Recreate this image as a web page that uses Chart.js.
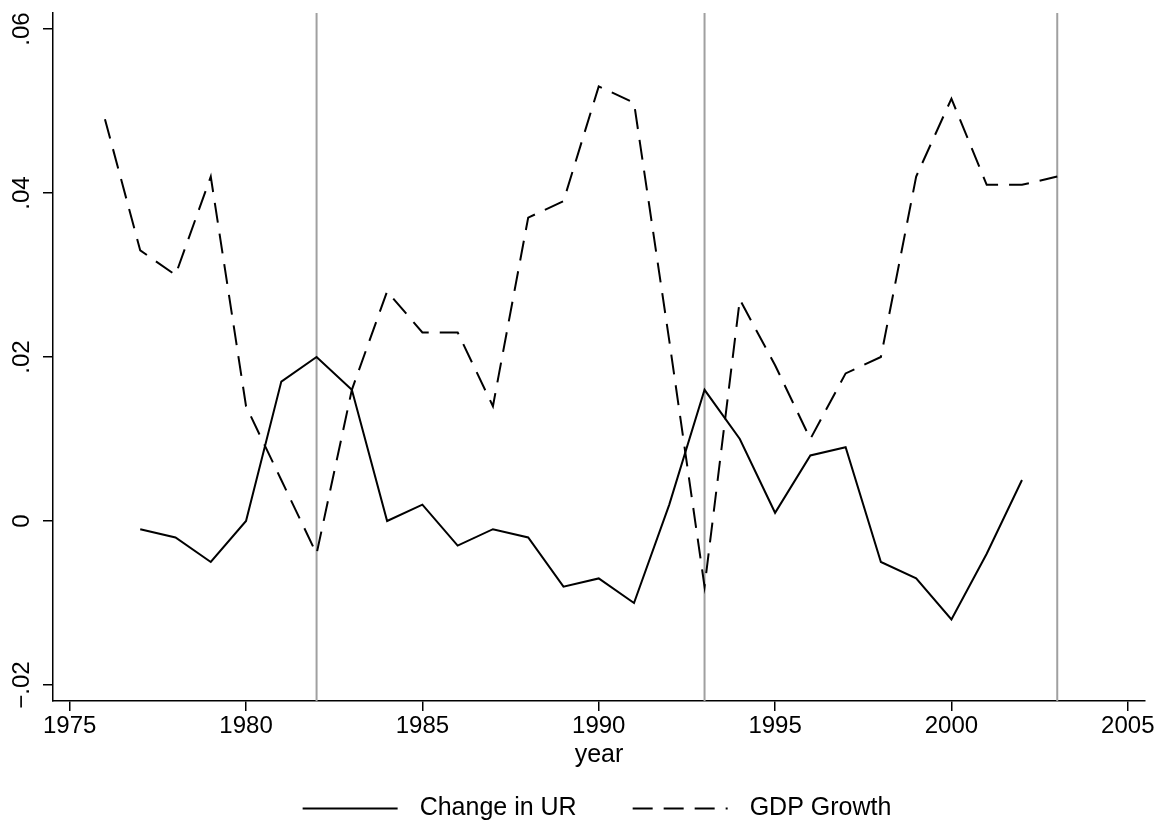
<!DOCTYPE html>
<html>
<head>
<meta charset="utf-8">
<title>Change in UR and GDP Growth</title>
<script src="https://cdn.jsdelivr.net/npm/chart.js@4.4.1/dist/chart.umd.min.js"></script>
<style>
html, body { margin: 0; padding: 0; background: #fff; }
#wrap { width: 1165px; height: 827px; }
</style>
</head>
<body>
<div id="wrap"><canvas id="mychart"></canvas></div>
<script>
// values
var urYears = [1977, 1978, 1979, 1980, 1981, 1982, 1983, 1984, 1985, 1986, 1987, 1988, 1989,
               1990, 1991, 1992, 1993, 1994, 1995, 1996, 1997, 1998, 1999, 2000, 2001, 2002]
var urChange = [-0.001, -0.002, -0.005, 0.000, 0.017, 0.020, 0.016, 0.000, 0.002, -0.003, -0.001, -0.002, -0.008,
                -0.007, -0.010, 0.002, 0.016, 0.010, 0.001, 0.008, 0.009, -0.005, -0.007, -0.012, -0.004, 0.005]

var gdpYears = [1976, 1977, 1978, 1979, 1980, 1981, 1982, 1983, 1984, 1985, 1986, 1987, 1988, 1989,
                1990, 1991, 1992, 1993, 1994, 1995, 1996, 1997, 1998, 1999, 2000, 2001, 2002, 2003]
var gdpGrowth = [0.049, 0.033, 0.030, 0.042, 0.014, 0.005, -0.004, 0.016, 0.028, 0.023, 0.023, 0.014, 0.037, 0.039,
                 0.053, 0.051, 0.022, -0.008, 0.027, 0.019, 0.010, 0.018, 0.020, 0.042, 0.0515, 0.041, 0.041, 0.042]

var markYears = [1982, 1993, 2003]

var xTicks = [1975, 1980, 1985, 1990, 1995, 2000, 2005]
var yTicks = [-0.02, 0, 0.02, 0.04, 0.06]
var yTickLabels = ['\u2212.02', '0', '.02', '.04', '.06']

function toPoints(xs, ys) {
  var pts = []
  for (var i = 0; i < xs.length; i++) pts.push({x: xs[i], y: ys[i]})
  return pts
}

var FONT = "'Liberation Sans', Arial, Helvetica, sans-serif"
Chart.defaults.font.family = FONT
Chart.defaults.color = '#000'

// grey vertical lines under the series
var markLines = {
  id: 'markLines',
  beforeDatasetsDraw: function(chart) {
    var ctx = chart.ctx, xs = chart.scales.x, area = chart.chartArea
    ctx.save()
    ctx.strokeStyle = '#a0a0a0'
    ctx.lineWidth = 2
    markYears.forEach(function(yr) {
      var px = xs.getPixelForValue(yr)
      ctx.beginPath()
      ctx.moveTo(px, area.top)
      ctx.lineTo(px, area.bottom)
      ctx.stroke()
    })
    ctx.restore()
  }
}

// vertical y tick labels, stata style
var yLabels = {
  id: 'yLabels',
  afterDraw: function(chart) {
    var ctx = chart.ctx, ys = chart.scales.y
    ctx.save()
    ctx.font = '24px ' + FONT
    ctx.fillStyle = '#000'
    ctx.textAlign = 'center'
    ctx.textBaseline = 'middle'
    yTicks.forEach(function(v, i) {
      ctx.save()
      ctx.translate(22, ys.getPixelForValue(v))
      ctx.rotate(-Math.PI / 2)
      ctx.fillText(yTickLabels[i], 0, 0)
      ctx.restore()
    })
    ctx.restore()
  }
}

// legend row under the axis title
var bottomLegend = {
  id: 'bottomLegend',
  afterDraw: function(chart) {
    var ctx = chart.ctx, area = chart.chartArea
    var sample = 95, gapText = 22, gapItem = 56, y = 808.5
    ctx.save()
    ctx.font = '25px ' + FONT
    var sets = chart.data.datasets
    var total = 0
    sets.forEach(function(ds, i) {
      total += sample + gapText + ctx.measureText(ds.label).width
      if (i > 0) total += gapItem
    })
    var x = (area.left + area.right) / 2 - 2 - total / 2
    sets.forEach(function(ds) {
      ctx.strokeStyle = ds.borderColor
      ctx.lineWidth = ds.borderWidth
      ctx.setLineDash(ds.borderDash || [])
      ctx.beginPath()
      ctx.moveTo(x, y)
      ctx.lineTo(x + sample, y)
      ctx.stroke()
      ctx.setLineDash([])
      ctx.fillStyle = '#000'
      ctx.textAlign = 'left'
      ctx.textBaseline = 'middle'
      ctx.fillText(ds.label, x + sample + gapText, y)
      x += sample + gapText + ctx.measureText(ds.label).width + gapItem
    })
    ctx.restore()
  }
}

var mychart = document.getElementById('mychart').getContext('2d')
var chart = new Chart(mychart, {
  type: 'line',
  data: {
    datasets: [
      {
        label: 'Change in UR',
        data: toPoints(urYears, urChange),
        borderColor: '#000',
        borderWidth: 2,
        pointRadius: 0,
        tension: 0,
        fill: false
      },
      {
        label: 'GDP Growth',
        data: toPoints(gdpYears, gdpGrowth),
        borderColor: '#000',
        borderWidth: 2,
        borderDash: [20, 11],
        pointRadius: 0,
        tension: 0,
        fill: false
      }
    ]
  },
  options: {
    responsive: true,
    maintainAspectRatio: false,
    animation: false,
    events: [],
    layout: { padding: { top: 13, right: 20, left: 0, bottom: 0 } },
    plugins: { legend: { display: false }, tooltip: { enabled: false } },
    scales: {
      x: {
        type: 'linear',
        min: 1974.527,
        max: 2005.488,
        afterBuildTicks: function(scale) { scale.ticks = xTicks.map(function(v) { return {value: v} }) },
        afterFit: function(scale) { scale.height = 126 },
        ticks: {
          font: { size: 24 },
          padding: 1,
          maxRotation: 0,
          autoSkip: false,
          callback: function(v) { return String(v) }
        },
        grid: { drawOnChartArea: false, drawTicks: true, tickLength: 10, color: '#000', lineWidth: 1.5 },
        border: { display: true, color: '#000', width: 1.5 },
        title: { display: true, text: 'year', font: { size: 25 }, padding: { top: 0, bottom: 57 } }
      },
      y: {
        min: -0.02195,
        max: 0.06195,
        afterBuildTicks: function(scale) { scale.ticks = yTicks.map(function(v) { return {value: v} }) },
        afterFit: function(scale) { scale.width = 53 },
        ticks: { display: false },
        grid: { drawOnChartArea: false, drawTicks: true, tickLength: 10, color: '#000', lineWidth: 1.5 },
        border: { display: true, color: '#000', width: 1.5 }
      }
    }
  },
  plugins: [markLines, yLabels, bottomLegend]
})
</script>
</body>
</html>
